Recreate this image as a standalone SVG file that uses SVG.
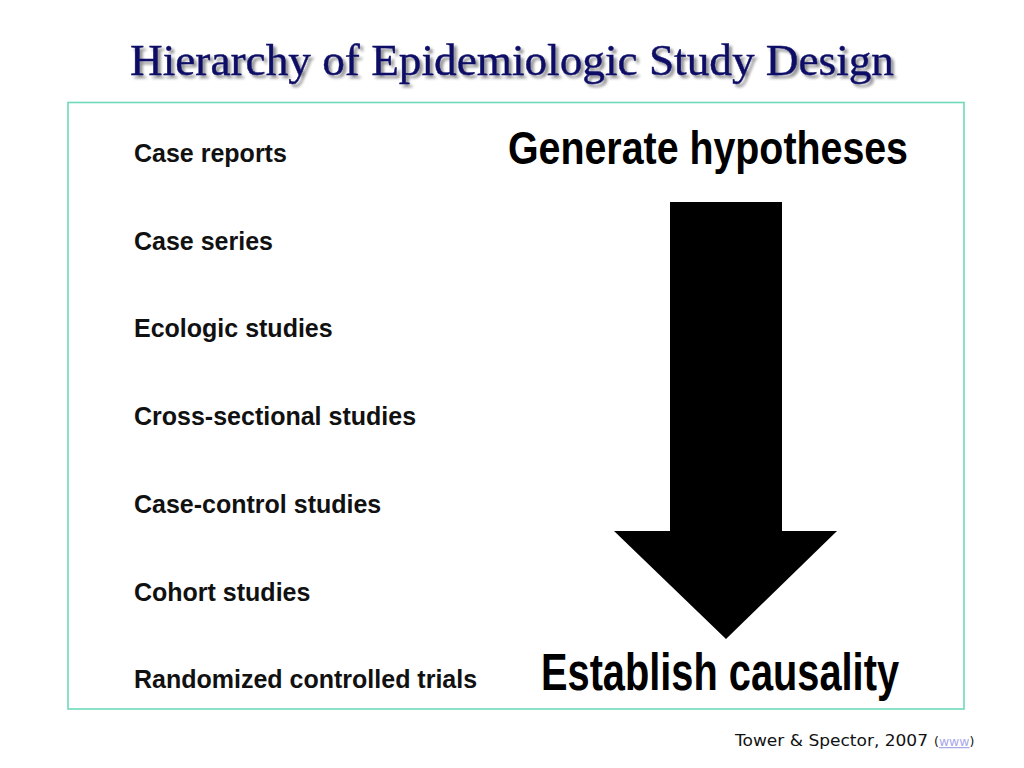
<svg xmlns="http://www.w3.org/2000/svg" width="1024" height="768" viewBox="0 0 1024 768">
<defs>
<filter id="shadow" x="-5%" y="-20%" width="110%" height="150%">
<feGaussianBlur in="SourceAlpha" stdDeviation="1.5"/>
<feOffset dx="3" dy="3" result="b"/>
<feComponentTransfer><feFuncA type="linear" slope="0.45"/></feComponentTransfer>
<feMerge><feMergeNode/><feMergeNode in="SourceGraphic"/></feMerge>
</filter>
<style>
.item{font-family:"Liberation Sans",Arial,sans-serif;font-weight:bold;font-size:25px;fill:#111}
.big{font-family:"Liberation Sans",Arial,sans-serif;font-weight:bold;fill:#000}
.title{font-family:"Liberation Serif","Times New Roman",serif;font-size:45px;fill:#0c0c66;stroke:#0c0c66;stroke-width:0.4}
.foot{font-family:"DejaVu Sans",Verdana,sans-serif;fill:#111}
</style>
</defs>
<rect width="1024" height="768" fill="#fff"/>
<g id="title"><text class="title" x="130" y="75" textLength="764" lengthAdjust="spacingAndGlyphs" filter="url(#shadow)">Hierarchy of Epidemiologic Study Design</text></g>
<rect id="frame" x="68" y="102.5" width="896" height="606.5" fill="none" stroke="#6fd9bb" stroke-width="1.6"/>
<g id="list">
<g id="n1"><text class="item" x="134" y="162">Case reports</text></g>
<g id="n2"><text class="item" x="134" y="250">Case series</text></g>
<g id="n3"><text class="item" x="134" y="337">Ecologic studies</text></g>
<g id="n4"><text class="item" x="134" y="425">Cross-sectional studies</text></g>
<g id="n5"><text class="item" x="134" y="513">Case-control studies</text></g>
<g id="n6"><text class="item" x="134" y="601">Cohort studies</text></g>
<g id="n7"><text class="item" x="134" y="688">Randomized controlled trials</text></g>
</g>
<g id="top-label"><text class="big" x="508" y="164" font-size="46" textLength="400" lengthAdjust="spacingAndGlyphs">Generate hypotheses</text></g>
<g id="connectors"><polygon points="670,202 782,202 782,531 837,531 726,639 614,531 670,531" fill="#000"/></g>
<g id="bottom-label"><text class="big" x="541" y="690" font-size="51" textLength="358" lengthAdjust="spacingAndGlyphs">Establish causality</text></g>
<g id="footer">
<text class="foot" x="735" y="746" font-size="16" textLength="193" lengthAdjust="spacingAndGlyphs">Tower &amp; Spector, 2007</text>
<text class="foot" x="934" y="746" font-size="12.5">(<tspan fill="#a9a9e8" text-decoration="underline">www</tspan>)</text>
</g>
</svg>
